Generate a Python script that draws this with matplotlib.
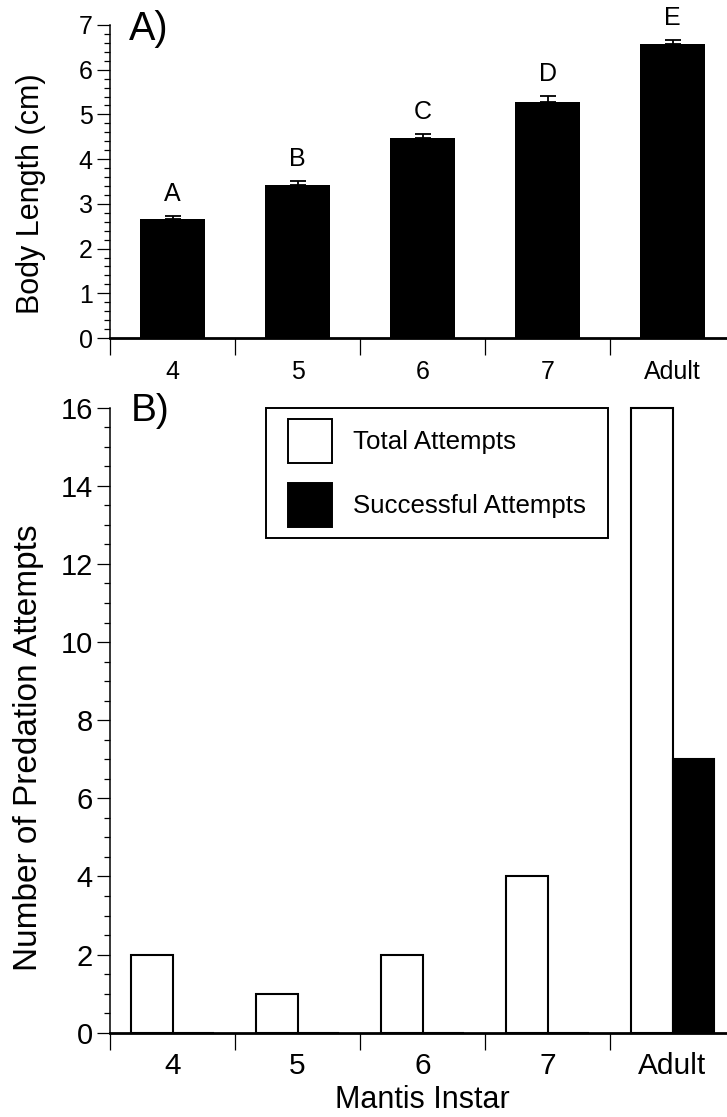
import numpy as np
import matplotlib
matplotlib.use("Agg")
from matplotlib import pyplot as plt
from matplotlib.patches import Patch, Rectangle
from matplotlib.ticker import MultipleLocator, FixedLocator, NullFormatter
from matplotlib.transforms import IdentityTransform

plt.rcParams['font.family'] = ['Liberation Sans', 'DejaVu Sans']

# data
instars = ["4", "5", "6", "7", "Adult"]
body_len = [2.655, 3.42, 4.47, 5.27, 6.58]
body_err = [0.075, 0.09, 0.09, 0.14, 0.08]
groups = ["A", "B", "C", "D", "E"]
total_att = [2, 1, 2, 4, 16]
success_att = [0, 0, 0, 0, 7]

W, H = 727, 1117
fig = plt.figure(figsize=(W / 100, H / 100), dpi=100)

def px_axes(left, top, width, height):
    return fig.add_axes([left / W, 1 - (top + height) / H, width / W, height / H])

axA = px_axes(110, 25, 625, 313)
axB = px_axes(110, 407.7, 625, 625)

x = np.arange(len(instars))

def style(ax, ylabfs, xlabfs, xpad):
    for s in ["top", "right"]:
        ax.spines[s].set_visible(False)
    ax.spines["left"].set_linewidth(1.1)
    ax.spines["bottom"].set_linewidth(2.0)
    ax.set_xlim(-0.5, 4.5)
    # boundary ticks (no labels), labels on minor ticks at centres
    ax.xaxis.set_major_locator(FixedLocator(np.arange(-0.5, 5.0, 1.0)))
    ax.xaxis.set_major_formatter(NullFormatter())
    ax.xaxis.set_minor_locator(FixedLocator(x))
    ax.set_xticks(x, instars, minor=True)
    ax.tick_params(axis="x", which="major", direction="out", length=12.5, width=0.9)
    ax.tick_params(axis="x", which="minor", length=0, pad=xpad, labelsize=xlabfs)
    ax.tick_params(axis="y", which="major", direction="out", length=9.5, width=0.9,
                   pad=3, labelsize=ylabfs)
    ax.tick_params(axis="y", which="minor", direction="out", length=4.6, width=0.9)

# Panel A
axA.bar(x, body_len, width=0.515, color="black", zorder=2)
axA.errorbar(x, body_len, yerr=[np.zeros(len(x)), body_err], fmt="none",
             ecolor="black", elinewidth=1.3, capsize=6, capthick=1.3, zorder=3)
for xi, v, e, g in zip(x, body_len, body_err, groups):
    axA.text(xi, v + e + 0.33, g, ha="center", va="baseline", fontsize=18)
axA.set_ylim(0, 7)
axA.yaxis.set_major_locator(MultipleLocator(1))
axA.yaxis.set_minor_locator(MultipleLocator(0.2))
style(axA, 18, 18, 15.5)
axA.set_ylabel("Body Length (cm)", fontsize=22)
axA.yaxis.set_label_coords((46 - 110) / 625, (338 - 194) / 313)
axA.text((129 - 110) / 625, (338 - 40) / 313, "A)", transform=axA.transAxes,
         fontsize=28.5, ha="left", va="baseline")

# Panel B
bw = 0.332
axB.bar(x - bw / 2, total_att, width=bw, facecolor="white", edgecolor="black",
        linewidth=1.5, zorder=2, clip_on=False)
axB.bar(x + bw / 2, success_att, width=bw, facecolor="black", edgecolor="black",
        linewidth=1.5, zorder=2, clip_on=False)
axB.set_ylim(0, 16)
axB.yaxis.set_major_locator(MultipleLocator(2))
axB.yaxis.set_minor_locator(MultipleLocator(0.5))
style(axB, 21, 21.5, 14.0)
axB.set_ylabel("Number of Predation Attempts", fontsize=24)
axB.yaxis.set_label_coords((44 - 110) / 625, (1032.7 - 747.5) / 625)
axB.set_xlabel("Mantis Instar", fontsize=22)
axB.xaxis.set_label_coords(0.5, (1032.7 - 1085) / 625)
axB.text((130.5 - 110) / 625, (1032.7 - 421) / 625, "B)", transform=axB.transAxes,
         fontsize=28, ha="left", va="baseline")

handles = [Patch(facecolor="white", edgecolor="black", linewidth=1.4),
           Patch(facecolor="black", edgecolor="black", linewidth=1.4)]
leg = axB.legend(handles, ["Total Attempts", "Successful Attempts"],
                 loc="upper left", bbox_to_anchor=((277 - 110) / 625, 1.0),
                 frameon=False, fontsize=18.6, borderpad=0.43, borderaxespad=0,
                 handlelength=1.705, handleheight=2.246, labelspacing=0.775,
                 handletextpad=0.81)

# frame drawn by hand so it can be wider than tall padding
fig.canvas.draw()
bb = leg.get_window_extent(fig.canvas.get_renderer())
frame = Rectangle((bb.x0 - 11, bb.y0), bb.width + 22, bb.height, fill=False,
                  edgecolor="black", linewidth=1.4, transform=IdentityTransform())
fig.add_artist(frame)

fig.savefig("out.png", dpi=100)
